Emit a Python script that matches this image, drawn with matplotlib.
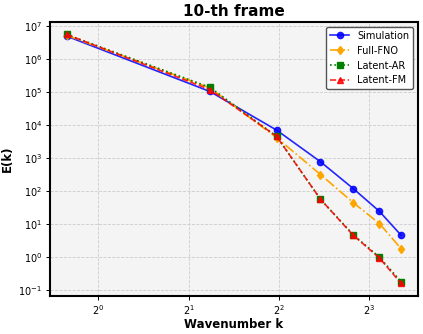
import numpy as np
import matplotlib
matplotlib.use("Agg")
import matplotlib.pyplot as plt

# wavenumbers (pi/4 + n*pi/2)
k = [0.785, 2.356, 3.927, 5.498, 7.069, 8.639, 10.21]

simulation = [5.0e6, 1.05e5, 7.1e3, 7.8e2, 1.2e2, 24.5, 4.6]
full_fno = [5.3e6, 1.35e5, 4.2e3, 3.2e2, 45.0, 10.5, 1.8]
latent_ar = [5.6e6, 1.4e5, 4.6e3, 57.0, 4.8, 1.0, 0.18]
latent_fm = [5.6e6, 1.2e5, 4.6e3, 57.0, 4.6, 0.95, 0.16]

fig = plt.figure(figsize=(4.23, 3.34), dpi=100)
ax = fig.add_axes([0.118, 0.114, 0.870, 0.820])
ax.set_facecolor("#f4f4f4")

ax.plot(k, simulation, "-", marker="o", color="blue", ms=4.5, lw=1.2, alpha=0.85, label="Simulation")
ax.plot(k, full_fno, "-.", marker="d", color="orange", ms=4.5, lw=1.2, label="Full-FNO")
ax.plot(k, latent_ar, ":", marker="s", color="green", ms=4.5, lw=1.2, label="Latent-AR")
ax.plot(k, latent_fm, "--", marker="^", color="red", ms=4.5, lw=1.2, alpha=0.85, label="Latent-FM")

ax.set_xscale("log", base=2)
ax.set_yscale("log")
ax.set_xticks([1, 2, 4, 8])
ax.minorticks_off()
ax.grid(True, linestyle="--", color="#cccccc", linewidth=0.6)
ax.tick_params(labelsize=7, length=3, width=0.7, pad=2.5)

for s in ax.spines.values():
    s.set_linewidth(1.5)

ax.set_title("10-th frame", fontsize=11, fontweight="bold", pad=4)
ax.set_xlabel("Wavenumber k", fontsize=8.5, fontweight="bold", labelpad=0.5)
ax.set_ylabel("E(k)", fontsize=8.5, fontweight="bold", labelpad=3)
ax.legend(loc="upper right", fontsize=7, framealpha=1, edgecolor="#555555")

fig.savefig("out.png", dpi=100)
